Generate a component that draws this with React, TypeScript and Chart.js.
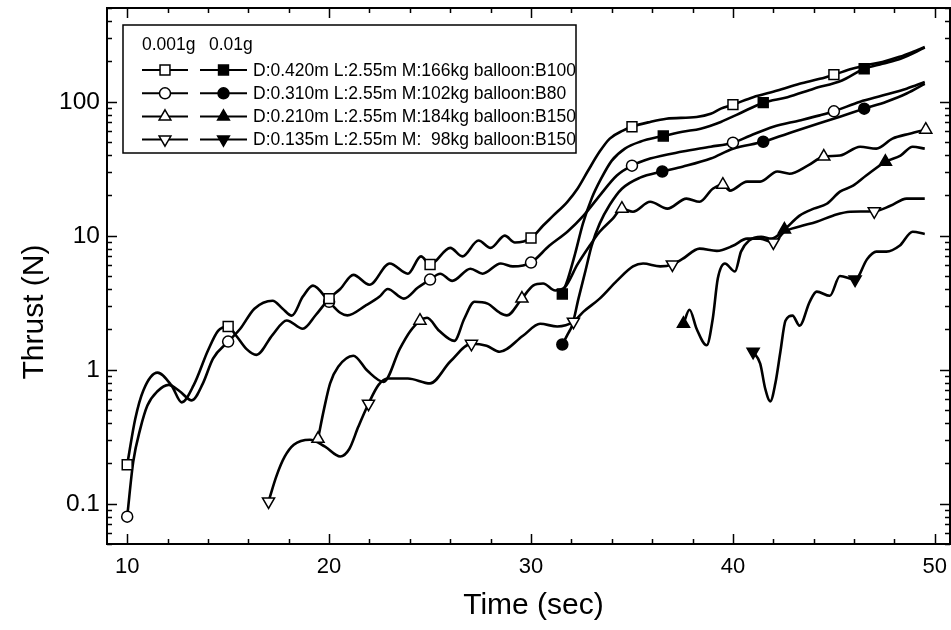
import React, { useEffect, useRef } from 'react';
import { Chart, registerables } from 'chart.js';

Chart.register(...registerables);

// ---------- axis ranges / ticks ----------
const xRange = [9, 50.75];
const yRange = [0.05, 500];
const xMajorTicks = [10, 20, 30, 40, 50];
const xMinorStep = 2;
const yMajorTicks = [0.1, 1, 10, 100];
const yTickLabels = ['0.1', '1', '10', '100'];
const xTitle = 'Time (sec)';
const yTitle = 'Thrust (N)';
const legendHeader = ['0.001g', '0.01g'];

// ---------- series: D0.420 0.001g (open square) ----------
const sqOpenTime = [10, 10.4, 10.8, 11.5, 12.2, 12.7, 13.3, 14.0, 14.5, 15, 15.4, 15.9, 16.4, 17.2, 17.9, 18.7, 19.35, 20, 20.55, 21.2, 22.0, 23.0, 23.9, 24.55, 25, 26.0, 26.6, 27.4, 28.0, 28.7, 29.2, 30, 30.6, 31.1, 31.8, 32.3, 32.8, 33.4, 33.9, 34.55, 35, 35.9, 36.7, 38.2, 38.9, 39.4, 40, 41.0, 42.2, 43.3, 44.3, 45, 45.9, 46.6, 47.4, 48.25, 48.9, 49.5];
const sqOpenThrust = [0.195, 0.43, 0.70, 0.95, 0.76, 0.57, 0.77, 1.39, 1.95, 2.1, 1.79, 1.43, 1.29, 1.82, 2.33, 2.02, 2.57, 3.39, 4.0, 5.1, 4.3, 6.2, 5.2, 7.0, 6.1, 8.1, 7.0, 9.2, 8.1, 10.0, 8.9, 9.6, 11.9, 14.1, 17.9, 22.4, 30.1, 42.4, 53, 60.8, 65, 70.6, 74.6, 76.9, 81.3, 88.7, 95, 108, 121, 136, 148, 159, 176, 187, 198, 216, 235, 256];
const sqOpenMarks = [10, 15, 20, 25, 30, 35, 40, 45];

// ---------- D0.310 0.001g (open circle) ----------
const ciOpenTime = [10, 10.3, 10.65, 11.0, 11.5, 12.05, 12.6, 13.2, 13.75, 14.25, 15, 15.6, 16.3, 17.2, 17.7, 18.15, 18.7, 19.2, 20, 20.55, 20.9, 21.8, 22.5, 22.9, 23.7, 24.4, 25, 25.5, 26.1, 27.0, 27.6, 28.5, 29.1, 30, 30.9, 31.8, 32.6, 33.4, 34.25, 35, 35.9, 37.5, 38.9, 40, 40.85, 42.0, 43.3, 44.3, 45, 46.3, 47.4, 48.6, 49.5];
const ciOpenThrust = [0.08, 0.206, 0.363, 0.54, 0.69, 0.77, 0.69, 0.59, 0.79, 1.21, 1.62, 2.02, 2.85, 3.27, 2.85, 2.53, 3.51, 4.24, 3.21, 2.66, 2.54, 3.0, 3.51, 4.0, 3.39, 4.1, 4.7, 5.2, 4.6, 5.67, 5.2, 6.2, 5.9, 6.3, 8.4, 10.7, 14.1, 19.9, 28.1, 33.3, 37.6, 42.4, 46.1, 49.4, 55.7, 65, 72.4, 79, 84.7, 100, 111, 125, 140];
const ciOpenMarks = [10, 15, 20, 25, 30, 35, 40, 45];

// ---------- D0.210 0.001g (open up-triangle) ----------
const trOpenTime = [19.45, 19.75, 20.05, 20.45, 21.2, 21.9, 22.7, 23.5, 24.0, 24.5, 24.85, 25.45, 26.2, 26.7, 27.2, 27.85, 28.45, 28.8, 29.55, 30.1, 30.6, 31.2, 31.7, 32.3, 32.9, 33.4, 34.05, 34.5, 35.05, 35.9, 36.75, 37.7, 38.35, 39.0, 39.5, 39.85, 40.7, 41.35, 42.2, 42.8, 43.7, 44.5, 45.3, 46.3, 47.1, 47.9, 48.75, 49.55];
const trOpenThrust = [0.305, 0.51, 0.79, 1.05, 1.27, 0.98, 0.81, 1.43, 1.92, 2.32, 2.44, 1.95, 1.64, 2.41, 3.21, 3.11, 2.66, 2.54, 3.39, 4.24, 4.4, 3.9, 4.16, 6.1, 8.4, 10.7, 13.4, 15.9, 15.1, 17.9, 15.9, 18.9, 17.9, 22.4, 24.0, 21.7, 25.3, 25.3, 30.1, 29.0, 33.3, 38.9, 39.6, 46.1, 44.6, 53, 57.7, 61.8];
const trOpenMarks = [19.45, 24.5, 29.55, 34.5, 39.5, 44.5, 49.55];

// ---------- D0.135 0.001g (open down-triangle) ----------
const tdOpenTime = [17.0, 17.4, 17.8, 18.25, 19.05, 19.8, 20.55, 21.0, 21.45, 21.95, 22.45, 22.9, 23.9, 25.0, 26.0, 27.05, 27.8, 28.45, 29.6, 30.45, 31.3, 32.1, 32.6, 33.4, 34.25, 35.05, 35.55, 36.4, 37.0, 37.5, 38.35, 39.2, 40.0, 40.7, 41.35, 42.0, 42.55, 43.3, 44.15, 44.95, 45.8, 47.0, 47.8, 48.6, 49.5];
const tdOpenThrust = [0.104, 0.162, 0.224, 0.275, 0.30, 0.266, 0.225, 0.256, 0.376, 0.557, 0.77, 0.86, 0.86, 0.79, 1.15, 1.56, 1.51, 1.36, 1.79, 2.2, 2.1, 2.28, 2.71, 3.39, 4.6, 5.9, 6.2, 5.9, 6.1, 6.7, 8.0, 7.7, 8.4, 9.5, 9.5, 8.9, 10.7, 11.7, 12.7, 14.1, 15.1, 15.2, 16.7, 18.9, 18.9];
const tdOpenMarks = [17.0, 21.95, 27.05, 32.1, 37.0, 42.0, 47.0];

// ---------- D0.420 0.01g (filled square) ----------
const sqFillTime = [31.55, 31.83, 32.18, 32.57, 33.0, 33.47, 34.0, 34.65, 35.4, 36.55, 37.5, 38.4, 39.4, 40.3, 41.5, 42.7, 44.0, 45.4, 46.5, 47.4, 48.3, 49.5];
const sqFillThrust = [3.67, 4.78, 7.3, 12.3, 18.9, 26.6, 36.3, 44.6, 50.2, 55.5, 59.7, 62.9, 70.6, 81.3, 98.3, 108, 125, 144, 176, 192, 209, 253];
const sqFillMarks = [31.55, 36.55, 41.5, 46.5];

// ---------- D0.310 0.01g (filled circle) ----------
const ciFillTime = [31.55, 31.8, 32.05, 32.35, 32.7, 33.0, 33.4, 33.9, 34.5, 35.4, 36.5, 37.5, 38.9, 40.0, 41.5, 42.7, 44.2, 45.3, 46.5, 47.6, 48.6, 49.5];
const ciFillThrust = [1.54, 1.82, 2.17, 3.39, 5.5, 8.4, 12.3, 17.0, 22.4, 27.1, 30.1, 32.7, 37.6, 44.6, 50.2, 57.7, 68.5, 77.3, 88.7, 100, 115, 136];
const ciFillMarks = [31.55, 36.5, 41.5, 46.5];

// ---------- D0.210 0.01g (filled up-triangle) ----------
const trFillTime = [37.55, 37.85, 38.2, 38.7, 39.0, 39.25, 39.6, 40.1, 40.4, 40.8, 41.4, 41.9, 42.55, 43.3, 44.0, 44.65, 45.3, 45.95, 46.6, 47.55, 48.3, 48.9, 49.5];
const trFillThrust = [2.2, 2.8, 2.02, 1.52, 2.4, 4.78, 6.2, 5.4, 7.6, 9.2, 9.8, 9.5, 11.1, 14.1, 15.9, 17.3, 21.3, 23.6, 28.1, 35.6, 39.6, 46.1, 44.6];
const trFillMarks = [37.55, 42.55, 47.55];

// ---------- D0.135 0.01g (filled down-triangle) ----------
const tdFillTime = [41.0, 41.35, 41.6, 41.85, 42.1, 42.35, 42.6, 42.95, 43.3, 43.8, 44.15, 44.8, 45.3, 46.05, 46.65, 47.1, 47.6, 48.25, 48.9, 49.5];
const tdFillThrust = [1.36, 1.11, 0.72, 0.58, 0.79, 1.36, 2.32, 2.53, 2.13, 3.21, 3.82, 3.56, 5.0, 4.7, 6.7, 7.6, 7.6, 8.4, 10.7, 10.3];
const tdFillMarks = [41.0, 46.05];

const legendLabels = [
  'D:0.420m L:2.55m M:166kg balloon:B100',
  'D:0.310m L:2.55m M:102kg balloon:B80',
  'D:0.210m L:2.55m M:184kg balloon:B150',
  'D:0.135m L:2.55m M:  98kg balloon:B150',
];

const FONT = '"Liberation Sans", Arial, Helvetica, sans-serif';
const shapes = ['rect', 'circle', 'triangle', 'triangleDown'];
const radii: Record<string, number> = { rect: 7, circle: 5.5, triangle: 7, triangleDown: 7 };

function makeSet(label: string, t: number[], v: number[], marks: number[], shape: string, filled: boolean) {
  const r = radii[shape];
  return {
    label,
    data: t.map((x, i) => ({ x, y: v[i] })),
    borderColor: '#000',
    borderWidth: 2.6,
    fill: false,
    cubicInterpolationMode: 'monotone',
    pointStyle: shape === 'triangleDown' ? 'triangle' : shape,
    rotation: shape === 'triangleDown' ? 180 : 0,
    pointRadius: (c: any) => (c.raw && marks.includes(c.raw.x) ? r : 0),
    pointHoverRadius: 0,
    pointBackgroundColor: filled ? '#000' : '#fff',
    pointBorderColor: '#000',
    pointBorderWidth: 1.5,
  };
}

function drawShape(ctx: CanvasRenderingContext2D, shape: string, x: number, y: number, r: number, filled: boolean) {
  ctx.beginPath();
  if (shape === 'rect') {
    const s = r * Math.SQRT1_2;
    ctx.rect(x - s, y - s, 2 * s, 2 * s);
  } else if (shape === 'circle') {
    ctx.arc(x, y, r, 0, Math.PI * 2);
  } else {
    const d = shape === 'triangle' ? 1 : -1;
    ctx.moveTo(x, y - d * r);
    ctx.lineTo(x + r * 0.866, y + d * r * 0.5);
    ctx.lineTo(x - r * 0.866, y + d * r * 0.5);
  }
  ctx.closePath();
  ctx.fillStyle = filled ? '#000' : '#fff';
  ctx.fill();
  ctx.lineWidth = 1.5;
  ctx.strokeStyle = '#000';
  ctx.stroke();
}

const framePlugin = {
  id: 'frameAxes',
  afterDraw(chart: any) {
    const { ctx, chartArea: a, scales } = chart;
    const xs = scales.x;
    const ys = scales.y;
    ctx.save();
    ctx.strokeStyle = '#000';
    ctx.fillStyle = '#000';
    ctx.lineWidth = 2;
    ctx.strokeRect(a.left, a.top, a.right - a.left, a.bottom - a.top);

    ctx.lineWidth = 1.5;
    const major = 10;
    const minor = 5;
    // x ticks
    for (let v = xMajorTicks[0]; v <= xMajorTicks[xMajorTicks.length - 1] + 1e-9; v += xMinorStep) {
      const px = Math.round(xs.getPixelForValue(v)) + 0.5;
      const len = xMajorTicks.includes(v) ? major : minor;
      ctx.beginPath();
      ctx.moveTo(px, a.bottom);
      ctx.lineTo(px, a.bottom - len);
      ctx.moveTo(px, a.top);
      ctx.lineTo(px, a.top + len);
      ctx.stroke();
    }
    // y ticks
    for (let e = -2; e <= 2; e++) {
      const dec = Math.pow(10, e);
      for (let k = 1; k <= 9; k++) {
        const v = k * dec;
        if (v < yRange[0] - 1e-12 || v > yRange[1] + 1e-9) continue;
        const py = Math.round(ys.getPixelForValue(v)) + 0.5;
        const len = k === 1 ? major : minor;
        ctx.beginPath();
        ctx.moveTo(a.left, py);
        ctx.lineTo(a.left + len, py);
        ctx.moveTo(a.right, py);
        ctx.lineTo(a.right - len, py);
        ctx.stroke();
      }
    }
    // tick labels
    ctx.font = `22px ${FONT}`;
    ctx.textBaseline = 'middle';
    ctx.textAlign = 'center';
    xMajorTicks.forEach((v) => {
      ctx.fillText(String(v), xs.getPixelForValue(v), a.bottom + 23);
    });
    ctx.font = `24.5px ${FONT}`;
    ctx.textAlign = 'right';
    yMajorTicks.forEach((v, i) => {
      ctx.fillText(yTickLabels[i], a.left - 7, ys.getPixelForValue(v) + 1);
    });
    // titles
    ctx.font = `30px ${FONT}`;
    ctx.textAlign = 'center';
    ctx.textBaseline = 'alphabetic';
    ctx.fillText(xTitle, (a.left + a.right) / 2 + 5, a.bottom + 70);
    ctx.save();
    ctx.translate(43, 312);
    ctx.rotate(-Math.PI / 2);
    ctx.fillText(yTitle, 0, 0);
    ctx.restore();

    // legend
    const bx = 123, by = 25, bw = 453, bh = 128;
    ctx.fillStyle = '#fff';
    ctx.fillRect(bx, by, bw, bh);
    ctx.lineWidth = 1.5;
    ctx.strokeStyle = '#000';
    ctx.strokeRect(bx, by, bw, bh);
    ctx.fillStyle = '#000';
    ctx.font = `17.5px ${FONT}`;
    ctx.textAlign = 'left';
    ctx.textBaseline = 'middle';
    ctx.fillText(legendHeader[0], 142, 45);
    ctx.fillText(legendHeader[1], 209, 45);
    const rowY = [70, 93.3, 116.6, 139.4];
    legendLabels.forEach((lab, i) => {
      const y = rowY[i];
      ctx.lineWidth = 2;
      ctx.strokeStyle = '#000';
      ctx.beginPath();
      ctx.moveTo(142, y);
      ctx.lineTo(188, y);
      ctx.moveTo(200, y);
      ctx.lineTo(247, y);
      ctx.stroke();
      const sh = shapes[i];
      const rr = sh === 'circle' ? 5.5 : sh === 'rect' ? 7 : 6.8;
      drawShape(ctx, sh, 165, y, rr, false);
      drawShape(ctx, sh, 223.5, y, rr, true);
      ctx.fillStyle = '#000';
      ctx.fillText(lab, 253, y + 1);
    });
    ctx.restore();
  },
};

export default function App() {
  const ref = useRef<HTMLCanvasElement | null>(null);
  useEffect(() => {
    if (!ref.current) return;
    const chart = new Chart(ref.current, {
      type: 'line',
      data: {
        datasets: [
          makeSet('sqOpen', sqOpenTime, sqOpenThrust, sqOpenMarks, 'rect', false),
          makeSet('ciOpen', ciOpenTime, ciOpenThrust, ciOpenMarks, 'circle', false),
          makeSet('trOpen', trOpenTime, trOpenThrust, trOpenMarks, 'triangle', false),
          makeSet('tdOpen', tdOpenTime, tdOpenThrust, tdOpenMarks, 'triangleDown', false),
          makeSet('sqFill', sqFillTime, sqFillThrust, sqFillMarks, 'rect', true),
          makeSet('ciFill', ciFillTime, ciFillThrust, ciFillMarks, 'circle', true),
          makeSet('trFill', trFillTime, trFillThrust, trFillMarks, 'triangle', true),
          makeSet('tdFill', tdFillTime, tdFillThrust, tdFillMarks, 'triangleDown', true),
        ] as any,
      },
      options: {
        animation: false,
        responsive: false,
        devicePixelRatio: 1,
        events: [],
        layout: { autoPadding: false, padding: { left: 107, right: 1, top: 8, bottom: 86 } },
        plugins: { legend: { display: false }, tooltip: { enabled: false } },
        scales: {
          x: { type: 'linear', min: xRange[0], max: xRange[1], display: false },
          y: { type: 'logarithmic', min: yRange[0], max: yRange[1], display: false },
        },
      } as any,
      plugins: [framePlugin],
    });
    return () => chart.destroy();
  }, []);
  return (
    <div style={{ position: 'absolute', left: 0, top: 0, width: 951, height: 630, background: '#fff' }}>
      <canvas ref={ref} width={951} height={630} style={{ display: 'block', width: 951, height: 630 }} />
    </div>
  );
}
